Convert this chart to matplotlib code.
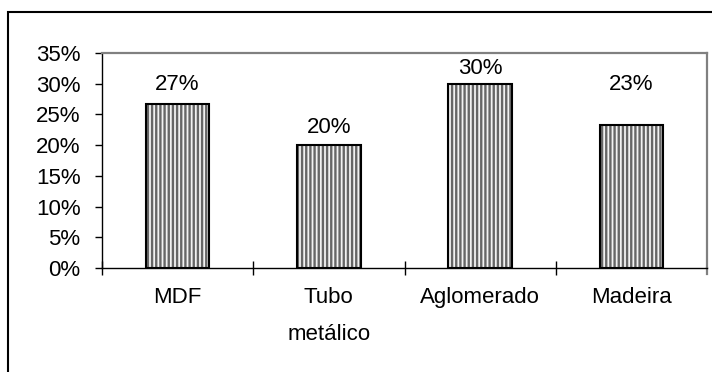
import matplotlib
matplotlib.use("Agg")
import matplotlib.pyplot as plt
from matplotlib.patches import Rectangle
from matplotlib.ticker import FixedLocator, PercentFormatter

# Share of each material
categories = ["MDF", "Tubo\nmetálico", "Aglomerado", "Madeira"]
shares = [0.267, 0.200, 0.300, 0.233]
y_ticks = [0.0, 0.05, 0.10, 0.15, 0.20, 0.25, 0.30, 0.35]

# how far each value label sits above its bar (points)
label_lift = [14, 13, 11, 29]

plt.rcParams["font.family"] = ["Liberation Sans", "DejaVu Sans"]
plt.rcParams["hatch.linewidth"] = 1.7

FS = 16
W, H = 712, 372
fig = plt.figure(figsize=(W / 100, H / 100), dpi=100)
ax = fig.add_axes([102 / W, 104 / H, (707 - 102) / W, (319 - 104) / H])

x = list(range(len(categories)))
bar_w = 0.42

# striped fill, then a black outline on top
ax.bar(x, shares, width=bar_w, color="#f2f2f2", edgecolor="#666666",
       hatch="||||", linewidth=0, zorder=2)
ax.bar(x, shares, width=bar_w, fill=False, edgecolor="black",
       linewidth=1.5, zorder=3)

for xi, v, lift in zip(x, shares, label_lift):
    ax.annotate(f"{v * 100:.0f}%", (xi, v), xytext=(0, lift),
                textcoords="offset points", ha="center", va="center",
                fontsize=FS)

ax.set_xlim(-0.5, len(categories) - 0.5)
ax.set_ylim(0, 0.35)

ax.yaxis.set_major_locator(FixedLocator(y_ticks))
ax.yaxis.set_major_formatter(PercentFormatter(1.0, decimals=0))
ax.tick_params(axis="y", direction="out", length=5, width=1.0, pad=10.5,
               labelsize=FS, colors="black")

ax.set_xticks(x)
ax.set_xticklabels(categories, fontsize=FS, linespacing=2.0)
ax.tick_params(axis="x", which="major", length=0, pad=14)
ax.set_xticks([i - 0.5 for i in range(len(categories))], minor=True)
ax.tick_params(axis="x", which="minor", direction="inout", length=10,
               width=1.0)

for side in ("left", "bottom"):
    ax.spines[side].set_color("black")
    ax.spines[side].set_linewidth(1.0)
for side in ("top", "right"):
    ax.spines[side].set_color("#808080")
    ax.spines[side].set_linewidth(1.6)

# right edge of the plot frame continues a little below the axis
ax.plot([1, 1], [0, -0.03], transform=ax.transAxes, color="#808080",
        linewidth=1.6, clip_on=False)

# outer chart border
fig.patches.append(Rectangle((8 / W, -0.2), 1.2, (H - 12) / H + 0.2,
                             transform=fig.transFigure, fill=False,
                             edgecolor="black", linewidth=1.5))

fig.savefig("out.png", dpi=100)
